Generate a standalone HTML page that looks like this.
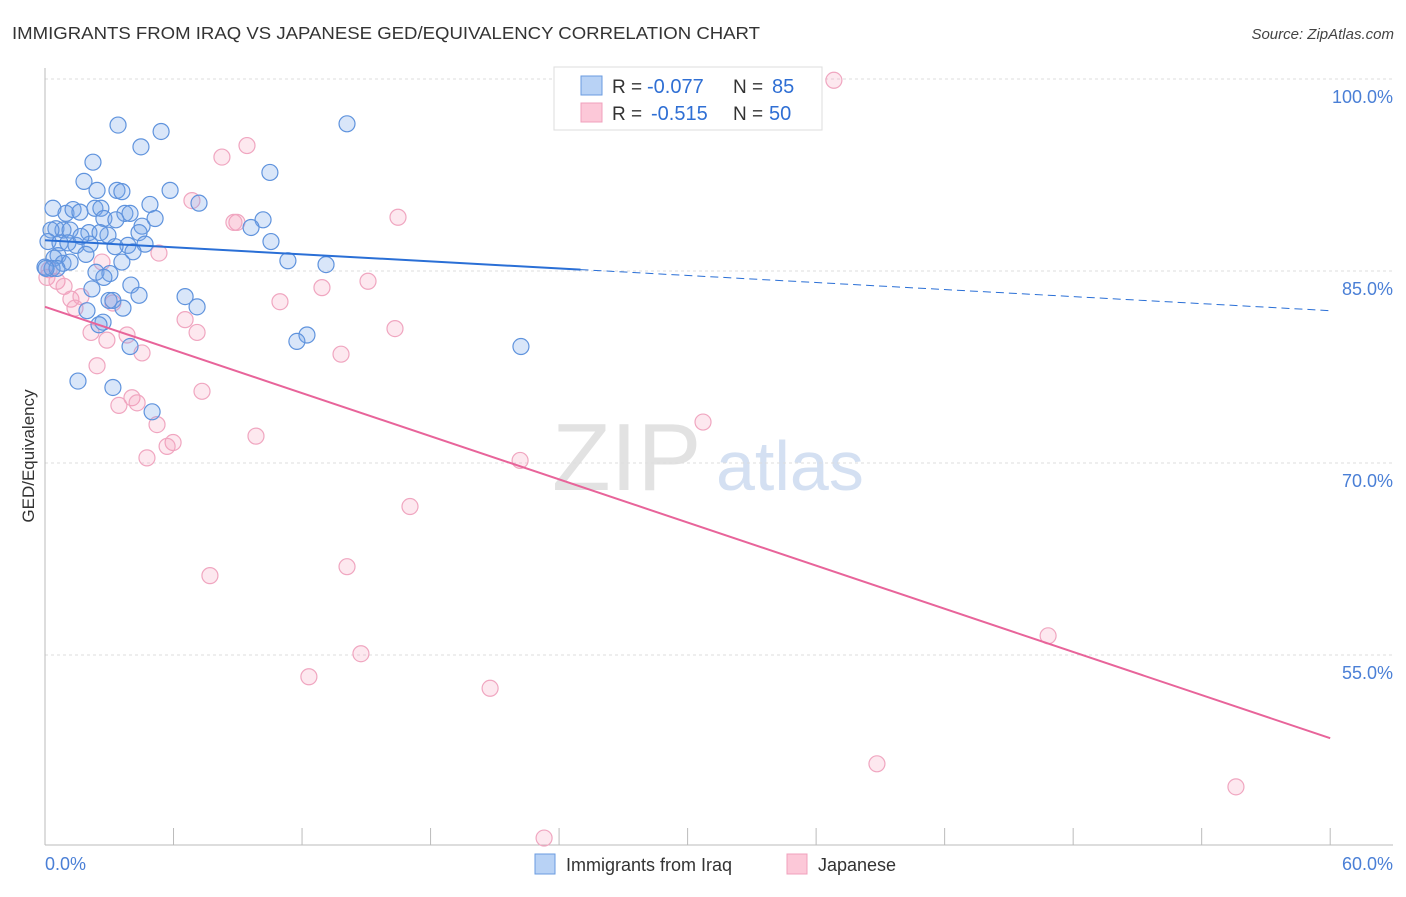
<!DOCTYPE html>
<html><head><meta charset="utf-8"><style>
body{margin:0;background:#fff;font-family:"Liberation Sans",sans-serif;}
svg text{font-family:"Liberation Sans",sans-serif;}
</style></head><body>
<svg id="chart" width="1406" height="892" xmlns="http://www.w3.org/2000/svg">
<text x="12" y="39" font-size="17.5" fill="#333" textLength="748" lengthAdjust="spacingAndGlyphs">IMMIGRANTS FROM IRAQ VS JAPANESE GED/EQUIVALENCY CORRELATION CHART</text>
<text x="1394" y="39" font-size="15" fill="#444" font-style="italic" text-anchor="end">Source: ZipAtlas.com</text>
<g>
<text x="552" y="490" font-size="96" fill="#e2e2e2" font-family="Liberation Serif">ZIP</text>
<text x="716" y="490" font-size="70" fill="#d4e0f2">atlas</text>
</g>
<g id="grid"></g>
<g id="axes"></g>
<g id="pts"></g>
<g id="lines"></g>
<text transform="translate(34,456) rotate(-90)" font-size="17" fill="#333" text-anchor="middle">GED/Equivalency</text>
<g>
<rect x="554" y="67" width="268" height="63" fill="#fff" stroke="#ddd"/>
<rect x="581" y="76" width="21" height="19" fill="#b8d2f5" stroke="#6a9be0"/>
<rect x="581" y="103" width="21" height="19" fill="#fcc8d8" stroke="#f0a0bc"/>
<text x="612" y="93" font-size="19" fill="#333">R =</text>
<text x="647" y="93" font-size="20" fill="#2f6fd4">-0.077</text>
<text x="733" y="93" font-size="19" fill="#333">N =</text>
<text x="772" y="93" font-size="20" fill="#2f6fd4">85</text>
<text x="612" y="120" font-size="19" fill="#333">R =</text>
<text x="651" y="120" font-size="20" fill="#2f6fd4">-0.515</text>
<text x="733" y="120" font-size="19" fill="#333">N =</text>
<text x="769" y="120" font-size="20" fill="#2f6fd4">50</text>
</g>
<g>
<rect x="535" y="854" width="20" height="20" fill="#b8d2f5" stroke="#6a9be0"/>
<text x="566" y="871" font-size="18" fill="#333">Immigrants from Iraq</text>
<rect x="787" y="854" width="20" height="20" fill="#fcc8d8" stroke="#f0a0bc"/>
<text x="818" y="871" font-size="18" fill="#333">Japanese</text>
</g>
</svg>
<script>
const blueX=[3.41,5.42,14.10,4.48,2.24,1.82,2.43,3.36,3.59,5.84,10.50,7.19,0.37,0.98,1.31,1.63,2.33,2.61,4.90,3.73,3.97,2.75,3.31,5.14,10.18,4.53,0.51,0.84,2.05,1.17,0.28,2.94,4.39,9.62,10.55,0.14,0.70,1.45,2.10,3.87,3.27,4.67,4.11,1.91,0.61,0.42,0.84,1.17,11.34,13.12,3.59,0,0.33,0.56,2.38,3.03,2.75,4.01,2.19,4.39,6.54,2.99,3.17,1.96,3.64,7.10,2.71,2.52,12.23,11.76,3.97,22.22,1.54,3.17,5.00,0.05,1.07,1.68,2.57];
const blueY=[96.4,95.9,96.5,94.7,93.5,92.0,91.3,91.3,91.2,91.3,92.7,90.3,89.9,89.5,89.8,89.6,89.9,89.9,90.2,89.5,89.5,89.1,89.0,89.1,89.0,88.5,88.3,88.2,88.0,88.2,88.2,87.8,88.0,88.4,87.3,87.3,87.2,87.0,87.1,87.0,86.9,87.1,86.5,86.3,86.2,86.0,85.6,85.7,85.8,85.5,85.7,85.3,85.2,85.2,84.9,84.8,84.5,83.9,83.6,83.1,83.0,82.7,82.7,81.9,82.1,82.2,81.0,80.8,80.0,79.5,79.1,79.1,76.4,75.9,74.0,85.2,87.2,87.7,88.0];
const pinkX=[36.83,9.43,8.26,6.86,8.96,8.82,16.48,5.32,2.66,0.19,0.09,0.56,0.89,1.21,1.68,15.08,12.93,10.97,1.40,6.54,7.10,16.34,2.15,3.83,2.89,4.53,13.82,2.43,7.33,4.06,4.30,3.45,5.23,30.72,5.98,5.70,9.85,4.76,22.18,17.04,7.70,14.10,14.75,12.32,20.78,46.83,38.84,55.60,23.30,3.17];
const pinkY=[99.9,94.8,93.9,90.5,88.8,88.8,89.2,86.4,85.7,85.1,84.5,84.2,83.8,82.8,83.0,84.2,83.7,82.6,82.1,81.2,80.2,80.5,80.2,80.0,79.6,78.6,78.5,77.6,75.6,75.1,74.7,74.5,73.0,73.2,71.6,71.3,72.1,70.4,70.2,66.6,61.2,61.9,55.1,53.3,52.4,56.5,46.5,44.7,40.7,82.5];
const blueTrend=[87.4,81.9]; const blueSolidEnd=25;
const pinkTrend=[82.2,48.5];
const yTicks=[100,85,70,55];
const xTickVals=[0,6,12,18,24,30,36,42,48,54,60];

const NS='http://www.w3.org/2000/svg';
const X=v=>45+v*21.42;
const Y=v=>79+(100-v)*12.8;
function mk(tag,attrs,parent){const e=document.createElementNS(NS,tag);for(const k in attrs)e.setAttribute(k,attrs[k]);parent.appendChild(e);return e;}
const grid=document.getElementById('grid'),axes=document.getElementById('axes'),pts=document.getElementById('pts'),lines=document.getElementById('lines');
yTicks.forEach(t=>{
 const l=mk('line',{x1:45,x2:1393,y1:Y(t),y2:Y(t),stroke:'#ddd','stroke-dasharray':'3,3'},grid);
 
 
 const tx=mk('text',{x:1393,y:Y(t)+24,'font-size':18,fill:'#4a7fd6','text-anchor':'end'},axes);
 tx.textContent=t.toFixed(1)+'%';
 
 
});
mk('line',{x1:45,x2:45,y1:68,y2:845,stroke:'#bbb'},axes);
mk('line',{x1:45,x2:1393,y1:845,y2:845,stroke:'#bbb'},axes);
xTickVals.forEach(v=>{const t=mk('line',{x1:X(v),x2:X(v),y1:828,y2:845,stroke:'#bbb'},axes);
 
 });
const xl0=mk('text',{x:45,y:870,'font-size':18,fill:'#4a7fd6'},axes);xl0.textContent='0.0%';


const xl1=mk('text',{x:1393,y:870,'font-size':18,fill:'#4a7fd6','text-anchor':'end'},axes);xl1.textContent='60.0%';


pinkX.forEach((x,i)=>{const c=mk('circle',{cx:X(x),cy:Y(pinkY[i]),r:8,fill:'rgba(245,150,180,0.22)',stroke:'#f0a6c0','stroke-width':1.2},pts);
 
 });
blueX.forEach((x,i)=>{const c=mk('circle',{cx:X(x),cy:Y(blueY[i]),r:8,fill:'rgba(120,165,235,0.28)',stroke:'#5f93dd','stroke-width':1.2},pts);
 
 });
const bAt=v=>blueTrend[0]+(blueTrend[1]-blueTrend[0])*v/60;
const b1=mk('line',{x1:X(0),y1:Y(bAt(0)),x2:X(blueSolidEnd),y2:Y(bAt(blueSolidEnd)),stroke:'#2a6fd6','stroke-width':2},lines);


const b2=mk('line',{x1:X(blueSolidEnd),y1:Y(bAt(blueSolidEnd)),x2:X(60),y2:Y(bAt(60)),stroke:'#2a6fd6','stroke-width':1,'stroke-dasharray':'8,5'},lines);


const p1=mk('line',{x1:X(0),y1:Y(pinkTrend[0]),x2:X(60),y2:Y(pinkTrend[1]),stroke:'#e8649a','stroke-width':2},lines);


</script>
</body></html>
